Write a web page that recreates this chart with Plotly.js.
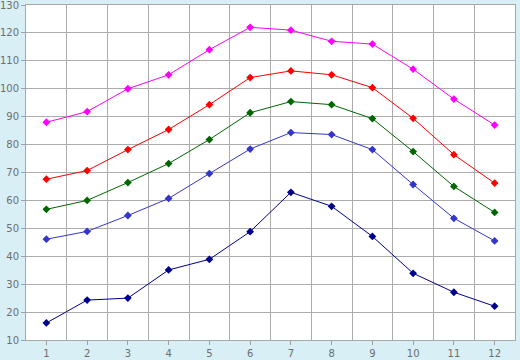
<!DOCTYPE html>
<html>
<head>
<meta charset="utf-8">
<script src="https://cdn.plot.ly/plotly-3.0.1.min.js"></script>
<style>html,body{margin:0;padding:0;background:#d9eff6;}#chart{width:520px;height:360px;}</style>
</head>
<body>
<div id="chart"></div>
<script>
var months = [1,2,3,4,5,6,7,8,9,10,11,12];
var yTicks = [10,20,30,40,50,60,70,80,90,100,110,120,130];
var magenta = [88, 91.8, 100, 105, 114, 122, 121, 117, 116, 107, 96.3, 87];
var red     = [67.6, 70.7, 78.2, 85.4, 94.3, 104, 106.4, 105, 100.4, 89.4, 76.4, 66.2];
var green   = [56.8, 60, 66.4, 73.2, 81.8, 91.4, 95.4, 94.3, 89.3, 77.5, 65, 55.7];
var blue    = [46.1, 48.9, 54.6, 60.7, 69.6, 78.4, 84.3, 83.6, 78.2, 65.7, 53.6, 45.5];
var navy    = [16.1, 24.3, 25, 35.1, 38.9, 48.8, 62.9, 57.9, 47.1, 33.9, 27.1, 22.1];

var series = [
  {y: magenta, color: '#ff00ff'},
  {y: red, color: '#ff0000'},
  {y: green, color: '#006600'},
  {y: blue, color: '#3535cc'},
  {y: navy, color: '#00008f'}
];
var traces = series.map(function(s){
  return {x: months, y: s.y, type: 'scatter', mode: 'lines+markers',
    line: {color: s.color, width: 1},
    marker: {color: s.color, symbol: 'diamond', size: 6},
    hoverinfo: 'none', showlegend: false};
});
var font = {family: 'DejaVu Sans', size: 10, color: '#6e6e6e'};
var layout = {
  width: 520, height: 360,
  margin: {l: 26, r: 5, t: 5, b: 20, pad: 0},
  paper_bgcolor: '#d9eff6',
  plot_bgcolor: '#ffffff',
  showlegend: false,
  font: font,
  xaxis: {
    range: [0.5, 12.5], tickmode: 'array', tickvals: months, ticktext: months.map(String),
    showgrid: false, zeroline: false, ticks: 'outside', ticklen: 4, tickcolor: '#a0a0a0',
    minor: {tick0: 0.5, dtick: 1, showgrid: true, gridcolor: '#acacac', gridwidth: 1, ticks: ''},
    showline: true, mirror: true, linecolor: '#a8a8a8', linewidth: 1, tickfont: font, fixedrange: true,
    ticklabeloverflow: 'allow'
  },
  yaxis: {
    range: [9.999, 130.001], tickmode: 'array', tickvals: yTicks, showgrid: true, gridcolor: '#acacac',
    zeroline: false, ticks: 'outside', ticklen: 4, tickcolor: '#a0a0a0',
    showline: true, mirror: true, linecolor: '#a8a8a8', linewidth: 1, tickfont: font, fixedrange: true,
    ticklabeloverflow: 'allow'
  }
};
Plotly.newPlot('chart', traces, layout, {staticPlot: true, displayModeBar: false});
</script>
</body>
</html>
